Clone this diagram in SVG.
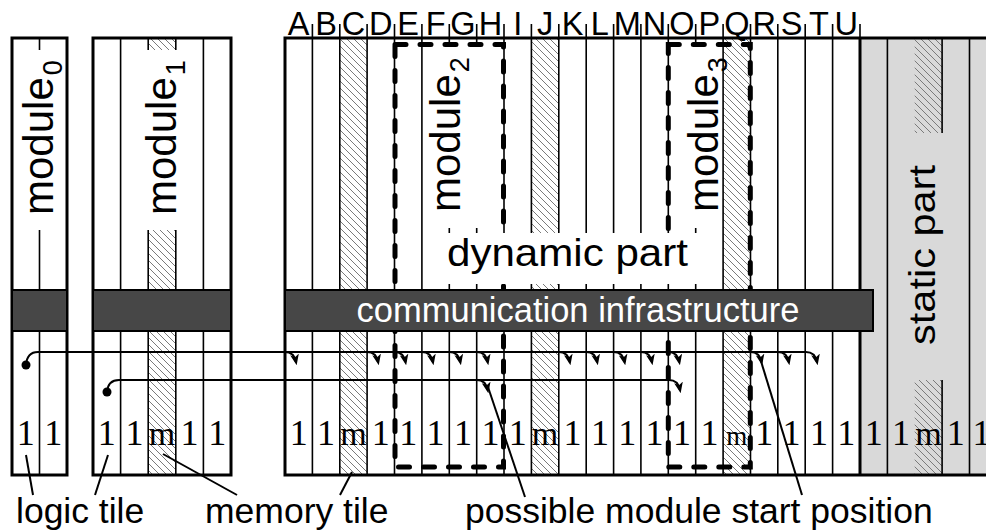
<svg xmlns="http://www.w3.org/2000/svg" width="986" height="531" viewBox="0 0 986 531">
<defs>
<pattern id="hatch" patternUnits="userSpaceOnUse" width="7" height="7">
<path d="M-1,-1 L8,8 M-1,6 L1,8 M6,-1 L8,1" stroke="#7a7a7a" stroke-width="1"/>
</pattern>
<marker id="ah" viewBox="0 0 10 8" refX="7" refY="4" markerWidth="11" markerHeight="9" markerUnits="userSpaceOnUse" orient="auto">
<path d="M0,0 L10,4 L0,8 L2.5,4 z" fill="#000"/>
</marker>
<style>
.thin{stroke:#000;stroke-width:1.6;fill:none}
.frame{stroke:#000;stroke-width:3;fill:none}
.dash{stroke:#000;stroke-width:5;fill:none;stroke-dasharray:11 14;stroke-linecap:round}
.bar{fill:#474747;stroke:#000;stroke-width:2}
.bg{fill:#fff}
.sans{font-family:"Liberation Sans",Arial,sans-serif}
.lbl{font-family:"Liberation Sans",Arial,sans-serif;font-size:42px;fill:#000}
.col{font-family:"Liberation Sans",Arial,sans-serif;font-size:32.5px;text-anchor:middle;fill:#000}
.tile{font-family:"Liberation Serif","Times New Roman",serif;font-size:36px;text-anchor:middle;fill:#000}
.bot{font-family:"Liberation Sans",Arial,sans-serif;font-size:35.5px;fill:#000}
.wire{stroke:#000;stroke-width:2;fill:none}
.arr{stroke:#000;stroke-width:2;fill:none;marker-end:url(#ah)}
.lead{stroke:#000;stroke-width:2}
</style>
</defs>

<g id="static-part">
<rect x="860" y="38" width="140" height="437" fill="#d9d9d9"/>
<rect x="914.7" y="38" width="27.4" height="95" fill="url(#hatch)"/>
<rect x="914.7" y="380" width="27.4" height="95" fill="url(#hatch)"/>
<line class="thin" x1="942.1" y1="38" x2="942.1" y2="133"/>
<line class="thin" x1="942.1" y1="380" x2="942.1" y2="475"/>
<line class="thin" x1="887.4" y1="38" x2="887.4" y2="475"/>
<line class="thin" x1="969.5" y1="38" x2="969.5" y2="475"/>
<text class="lbl" transform="translate(935,345) rotate(-90)" textLength="180" lengthAdjust="spacingAndGlyphs" style="font-size:37px">static part</text>
</g>

<g id="module0">
<line class="thin" x1="39.5" y1="38" x2="39.5" y2="475"/>
<rect class="frame" x="12" y="38" width="55" height="437"/>
</g>

<g id="module1">
<rect x="148.2" y="38" width="27.6" height="437" fill="url(#hatch)"/>
<line class="thin" x1="120.6" y1="38" x2="120.6" y2="475"/>
<line class="thin" x1="148.2" y1="38" x2="148.2" y2="475"/>
<line class="thin" x1="175.8" y1="38" x2="175.8" y2="475"/>
<line class="thin" x1="203.4" y1="38" x2="203.4" y2="475"/>
<rect class="frame" x="93" y="38" width="138" height="437"/>
</g>

<g id="dynamic-part">
<rect x="339.8" y="38" width="27.4" height="437" fill="url(#hatch)"/>
<rect x="531.4" y="38" width="27.4" height="437" fill="url(#hatch)"/>
<rect x="723.1" y="38" width="27.4" height="437" fill="url(#hatch)"/>
<g class="thin">
<line x1="312.4" y1="24" x2="312.4" y2="475"/>
<line x1="339.8" y1="24" x2="339.8" y2="475"/>
<line x1="367.1" y1="24" x2="367.1" y2="475"/>
<line x1="394.5" y1="24" x2="394.5" y2="475"/>
<line x1="421.9" y1="24" x2="421.9" y2="475"/>
<line x1="449.3" y1="24" x2="449.3" y2="475"/>
<line x1="476.7" y1="24" x2="476.7" y2="475"/>
<line x1="504.0" y1="24" x2="504.0" y2="475"/>
<line x1="531.4" y1="24" x2="531.4" y2="475"/>
<line x1="558.8" y1="24" x2="558.8" y2="475"/>
<line x1="586.2" y1="24" x2="586.2" y2="475"/>
<line x1="613.6" y1="24" x2="613.6" y2="475"/>
<line x1="640.9" y1="24" x2="640.9" y2="475"/>
<line x1="668.3" y1="24" x2="668.3" y2="475"/>
<line x1="695.7" y1="24" x2="695.7" y2="475"/>
<line x1="723.1" y1="24" x2="723.1" y2="475"/>
<line x1="750.5" y1="24" x2="750.5" y2="475"/>
<line x1="777.8" y1="24" x2="777.8" y2="475"/>
<line x1="805.2" y1="24" x2="805.2" y2="475"/>
<line x1="832.6" y1="24" x2="832.6" y2="475"/>
<line x1="860" y1="24" x2="860" y2="38"/>
</g>
<rect class="frame" x="285" y="38" width="720" height="437"/>
<line class="frame" x1="860" y1="38" x2="860" y2="475"/>
</g>

<g id="module2">
<rect class="dash" x="395" y="44.5" width="108.5" height="422.5"/>
</g>
<g id="module3">
<rect class="dash" x="668.3" y="44.5" width="82" height="422.5"/>
</g>

<g id="labels">
<rect class="bg" x="14" y="50" width="51" height="180"/>
<rect class="bg" x="143" y="50" width="40" height="180"/>
<rect class="bg" x="426" y="47" width="68" height="181"/>
<rect class="bg" x="683" y="47" width="39" height="181"/>
<rect class="bg" x="428" y="233" width="294" height="51"/>
<text class="lbl" transform="translate(53,215) rotate(-90)">module<tspan dx="2" dy="9" style="font-size:27px">0</tspan></text>
<text class="lbl" transform="translate(176,215) rotate(-90)">module<tspan dx="2" dy="9" style="font-size:27px">1</tspan></text>
<text class="lbl" transform="translate(460,212) rotate(-90)">module<tspan dx="2" dy="9" style="font-size:27px">2</tspan></text>
<text class="lbl" transform="translate(718,212) rotate(-90)">module<tspan dx="2" dy="9" style="font-size:27px">3</tspan></text>
<text class="lbl" x="447" y="266" textLength="241" lengthAdjust="spacingAndGlyphs" style="font-size:39px">dynamic part</text>
</g>

<g id="comm">
<rect class="bar" x="12" y="290" width="55" height="41"/>
<rect class="bar" x="93" y="290" width="138" height="41"/>
<rect class="bar" x="285" y="290" width="588" height="41"/>
<text class="sans" x="578" y="322" text-anchor="middle" style="font-size:34.5px;fill:#fff">communication infrastructure</text>
</g>

<g id="column-letters" class="col">
<text x="298.7" y="35">A</text><text x="326.1" y="35">B</text><text x="353.5" y="35">C</text><text x="380.8" y="35">D</text>
<text x="408.2" y="35">E</text><text x="435.6" y="35">F</text><text x="463.0" y="35">G</text><text x="490.4" y="35">H</text>
<text x="517.7" y="35">I</text><text x="545.1" y="35">J</text><text x="572.5" y="35">K</text><text x="599.9" y="35">L</text>
<text x="627.3" y="35">M</text><text x="654.6" y="35">N</text><text x="682.0" y="35">O</text><text x="709.4" y="35">P</text>
<text x="736.8" y="35">Q</text><text x="764.2" y="35">R</text><text x="791.5" y="35">S</text><text x="818.9" y="35">T</text>
<text x="846.3" y="35">U</text>
</g>

<g id="tile-labels" class="tile">
<text x="25.8" y="445">1</text><text x="53.3" y="445">1</text>
<text x="106.8" y="445">1</text><text x="134.4" y="445">1</text><text x="162" y="445" style="font-size:34px">m</text><text x="189.6" y="445">1</text><text x="217.2" y="445">1</text>
<text x="298.7" y="445">1</text><text x="326.1" y="445">1</text><text x="353.5" y="445" style="font-size:34px">m</text><text x="380.8" y="445">1</text>
<text x="408.2" y="445">1</text><text x="435.6" y="445">1</text><text x="463.0" y="445">1</text><text x="490.4" y="445">1</text>
<text x="517.7" y="445">1</text><text x="545.1" y="445" style="font-size:34px">m</text><text x="572.5" y="445">1</text><text x="599.9" y="445">1</text>
<text x="627.3" y="445">1</text><text x="654.6" y="445">1</text><text x="682.0" y="445">1</text><text x="709.4" y="445">1</text>
<text x="736.8" y="445" style="font-size:27px">m</text><text x="764.2" y="445">1</text><text x="791.5" y="445">1</text><text x="818.9" y="445">1</text>
<text x="846.3" y="445">1</text>
<text x="873.7" y="445">1</text><text x="901.1" y="445">1</text><text x="928.4" y="445" style="font-size:34px">m</text><text x="955.8" y="445">1</text><text x="981.5" y="445">1</text>
</g>

<g id="connectors">
<circle cx="26" cy="365" r="4.5" fill="#000"/>
<circle cx="107" cy="392" r="4.5" fill="#000"/>
<path class="arr" d="M26,365 Q27,352 38,352 H806 Q815,352 817,362"/>
<path class="arr" d="M107,392 Q108,380 119,380 H669 Q678,380 680,390"/>
<path class="arr" d="M285,352 Q294,352 296,362"/>
<path class="arr" d="M367.1,352 Q376.1,352 378.1,362"/>
<path class="arr" d="M394.5,352 Q403.5,352 405.5,362"/>
<path class="arr" d="M421.9,352 Q430.9,352 432.9,362"/>
<path class="arr" d="M449.3,352 Q458.3,352 460.3,362"/>
<path class="arr" d="M476.7,352 Q485.7,352 487.7,362"/>
<path class="arr" d="M558.8,352 Q567.8,352 569.8,362"/>
<path class="arr" d="M586.2,352 Q595.2,352 597.2,362"/>
<path class="arr" d="M613.6,352 Q622.6,352 624.6,362"/>
<path class="arr" d="M640.9,352 Q649.9,352 651.9,362"/>
<path class="arr" d="M668.3,352 Q677.3,352 679.3,362"/>
<path class="arr" d="M750.5,352 Q759.5,352 761.5,362"/>
<path class="arr" d="M777.8,352 Q786.8,352 788.8,362"/>
<path class="arr" d="M476.7,380 Q485.7,380 487.7,390"/>
<line class="lead" x1="33" y1="495" x2="26" y2="455"/>
<line class="lead" x1="95" y1="495" x2="108" y2="455"/>
<line class="lead" x1="237" y1="495" x2="163" y2="454"/>
<line class="lead" x1="340" y1="495" x2="352" y2="472"/>
<line class="lead" x1="525" y1="497" x2="488" y2="387"/>
<line class="lead" x1="802" y1="495" x2="760" y2="358"/>
</g>

<g id="captions" class="bot">
<text x="16" y="523">logic tile</text>
<text x="205" y="523">memory tile</text>
<text x="465" y="523">possible module start position</text>
</g>
</svg>
